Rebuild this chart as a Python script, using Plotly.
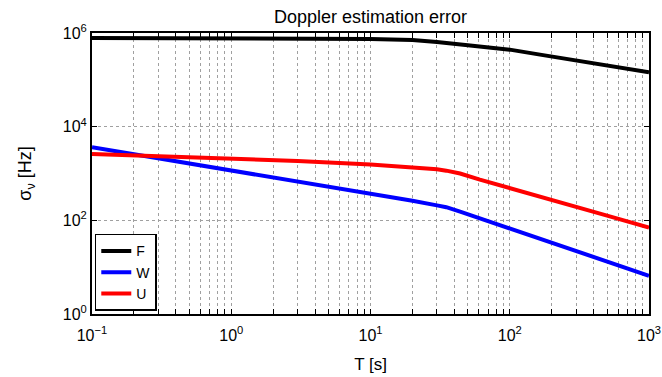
import plotly.graph_objects as go

# Data
T_F = [0.1, 0.3, 1, 3, 5, 10, 20, 30, 50, 100, 165, 300, 500, 1000]
F_vals = [7.82e5, 7.82e5, 7.80e5, 7.75e5, 7.70e5, 7.45e5, 7.05e5, 6.45e5, 5.46e5, 4.41e5, 3.45e5, 2.55e5, 1.97e5, 1.45e5]

T_W = [0.1, 0.2, 1, 3, 10, 20, 30, 35, 44, 64, 100, 165, 300, 1000]
W_vals = [3630, 2570, 1200, 692, 372, 263, 209, 191, 153, 105, 66, 40, 21.9, 6.56]

T_U = [0.1, 0.3, 1, 3, 10, 20, 25, 30, 35, 44, 61, 100, 165, 300, 500, 1000]
U_vals = [2610, 2340, 2120, 1860, 1550, 1380, 1300, 1230, 1150, 1000, 740, 490, 330, 198, 126, 69.7]

series = [("F", T_F, F_vals, "#000000"),
          ("W", T_W, W_vals, "#0000ff"),
          ("U", T_U, U_vals, "#ff0000")]

x_major = [0.1, 1, 10, 100, 1000]
x_major_text = ["10<sup>−1</sup>", "10<sup>0</sup>", "10<sup>1</sup>", "10<sup>2</sup>", "10<sup>3</sup>"]
y_major = [1, 100, 1e4, 1e6]
y_major_text = ["10<sup>0</sup>", "10<sup>2</sup>", "10<sup>4</sup>", "10<sup>6</sup>"]

# build x tick list with minor (unlabelled) ticks
x_tickvals, x_ticktext = [], []
for i, d in enumerate(x_major):
    x_tickvals.append(d)
    x_ticktext.append(x_major_text[i])
    if d < 1000:
        for m in range(2, 10):
            x_tickvals.append(d * m)
            x_ticktext.append("")

fig = go.Figure()
for name, xs, ys, col in series:
    fig.add_trace(go.Scatter(x=xs, y=ys, mode="lines", name=name,
                             line=dict(color=col, width=4)))

font = "Liberation Sans, Arial, sans-serif"
fig.update_layout(
    width=662, height=377,
    margin=dict(l=92, r=13, t=33, b=63, autoexpand=False),
    paper_bgcolor="white", plot_bgcolor="white",
    font=dict(family=font, size=16, color="black"),
    title=dict(text="Doppler estimation error", x=0.5, xref="paper", xanchor="center",
               y=1 - 17 / 377, yref="container", yanchor="middle",
               font=dict(size=18, family=font, color="black")),
    showlegend=True,
    legend=dict(x=0.005, y=0.011, xanchor="left", yanchor="bottom",
                bgcolor="white", bordercolor="black", borderwidth=1.5,
                font=dict(size=14, family=font), itemwidth=30,
                tracegroupgap=0),
)
fig.update_xaxes(
    type="log", range=[-1, 3],
    tickmode="array", tickvals=x_tickvals, ticktext=x_ticktext,
    ticks="inside", ticklen=5, tickcolor="black", tickwidth=1,
    showline=True, linecolor="black", linewidth=2, mirror="ticks",
    showgrid=True, gridcolor="#a0a0a0", griddash="dot", gridwidth=1,
    zeroline=False, ticklabelstandoff=6,
    title=dict(text="T [s]", font=dict(size=17, family=font), standoff=15),
    tickfont=dict(size=16, family=font),
)
fig.update_yaxes(
    type="log", range=[0, 6],
    tickmode="array", tickvals=y_major, ticktext=y_major_text,
    ticks="inside", ticklen=5, tickcolor="black", tickwidth=1,
    showline=True, linecolor="black", linewidth=2, mirror="ticks",
    showgrid=True, gridcolor="#a0a0a0", griddash="dot", gridwidth=1,
    zeroline=False,
    title=dict(text="σ<sub>ν</sub> [Hz]", font=dict(size=18, family=font), standoff=26),
    tickfont=dict(size=16, family=font),
)

fig.write_html("out.html")
